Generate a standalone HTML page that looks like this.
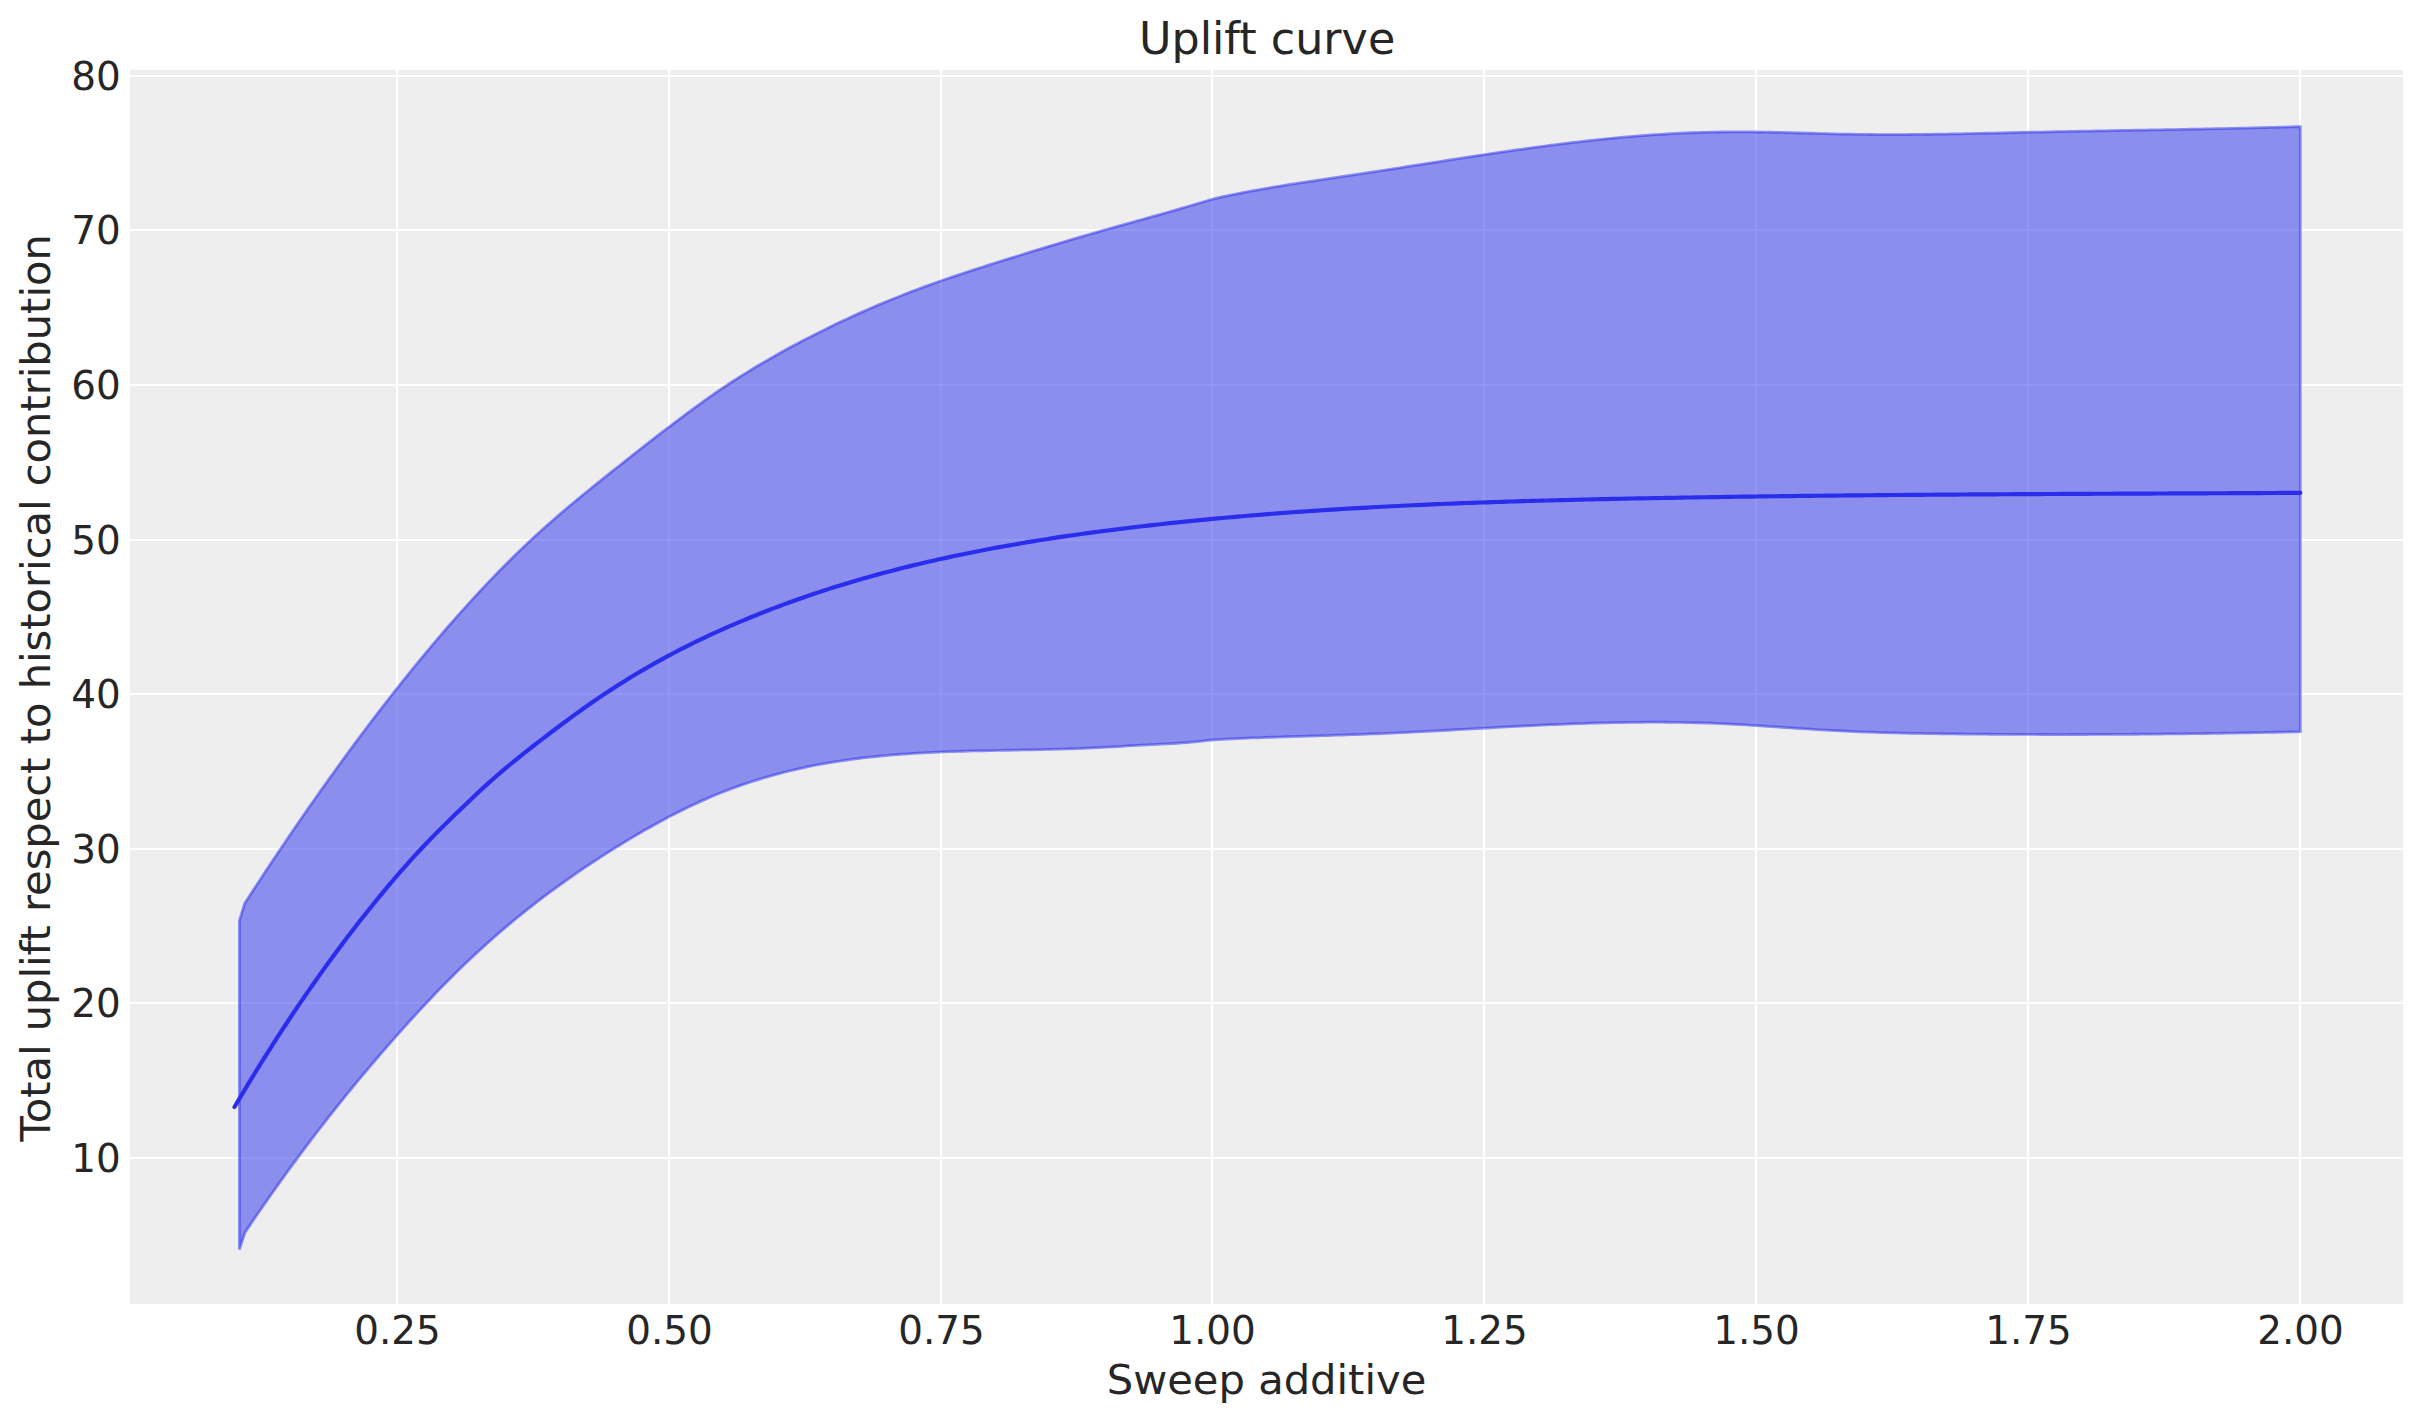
<!DOCTYPE html>
<html lang="en">
<head>
<meta charset="utf-8">
<title>Uplift curve</title>
<style>
html,body{margin:0;padding:0;background:#fff;}
body{width:2423px;height:1423px;overflow:hidden;}
svg{display:block;}
text{font-family:"DejaVu Sans","Liberation Sans",sans-serif;fill:#262626;}
.tick{font-size:38.89px;}
.lab{font-size:41.67px;}
.title{font-size:44.44px;}
</style>
</head>
<body>
<svg width="2423" height="1423" viewBox="0 0 2423 1423">
<rect x="0" y="0" width="2423" height="1423" fill="#ffffff"/>
<rect x="130" y="70" width="2273" height="1234" fill="#eeeeee"/>
<g stroke="#ffffff" stroke-width="2.2" fill="none"><line x1="397" y1="70" x2="397" y2="1304"/><line x1="669" y1="70" x2="669" y2="1304"/><line x1="941" y1="70" x2="941" y2="1304"/><line x1="1212" y1="70" x2="1212" y2="1304"/><line x1="1484" y1="70" x2="1484" y2="1304"/><line x1="1756" y1="70" x2="1756" y2="1304"/><line x1="2028" y1="70" x2="2028" y2="1304"/><line x1="2300" y1="70" x2="2300" y2="1304"/><line x1="130" y1="76" x2="2403" y2="76"/><line x1="130" y1="230" x2="2403" y2="230"/><line x1="130" y1="385" x2="2403" y2="385"/><line x1="130" y1="540" x2="2403" y2="540"/><line x1="130" y1="694" x2="2403" y2="694"/><line x1="130" y1="849" x2="2403" y2="849"/><line x1="130" y1="1003" x2="2403" y2="1003"/><line x1="130" y1="1158" x2="2403" y2="1158"/></g>
<path d="M239.40 920.60 L244.70 903.40 L249.69 895.70 L254.67 888.04 L259.66 880.43 L264.64 872.86 L269.63 865.32 L274.62 857.84 L279.60 850.39 L284.59 842.99 L289.57 835.63 L294.56 828.32 L299.55 821.05 L304.53 813.82 L309.52 806.64 L314.51 799.51 L319.49 792.42 L324.48 785.38 L329.46 778.38 L334.45 771.44 L339.44 764.54 L344.42 757.68 L349.41 750.88 L354.39 744.12 L359.38 737.42 L364.37 730.76 L369.35 724.15 L374.34 717.60 L379.32 711.09 L384.31 704.63 L389.30 698.23 L394.28 691.87 L399.27 685.57 L404.25 679.32 L409.24 673.13 L414.23 666.98 L419.21 660.89 L424.20 654.85 L429.19 648.87 L434.17 642.94 L439.16 637.07 L444.14 631.26 L449.13 625.50 L454.12 619.80 L459.10 614.16 L464.09 608.58 L469.07 603.06 L474.06 597.60 L479.05 592.21 L484.03 586.88 L489.02 581.62 L494.00 576.42 L498.99 571.29 L503.98 566.23 L508.96 561.23 L513.95 556.31 L518.93 551.46 L523.92 546.68 L528.91 541.97 L533.89 537.34 L538.88 532.77 L543.86 528.28 L548.85 523.85 L553.84 519.48 L558.82 515.16 L563.81 510.90 L568.80 506.68 L573.78 502.51 L578.77 498.37 L583.75 494.27 L588.74 490.21 L593.73 486.17 L598.71 482.15 L603.70 478.16 L608.68 474.17 L613.67 470.21 L618.66 466.25 L623.64 462.29 L628.63 458.35 L633.61 454.42 L638.60 450.50 L643.59 446.59 L648.57 442.70 L653.56 438.83 L658.54 434.97 L663.53 431.14 L668.52 427.32 L673.50 423.53 L678.49 419.77 L683.48 416.03 L688.46 412.33 L693.45 408.66 L698.43 405.03 L703.42 401.44 L708.41 397.90 L713.39 394.41 L718.38 390.97 L723.36 387.59 L728.35 384.27 L733.34 381.00 L738.32 377.80 L743.31 374.65 L748.29 371.56 L753.28 368.52 L758.27 365.52 L763.25 362.58 L768.24 359.69 L773.22 356.84 L778.21 354.03 L783.20 351.26 L788.18 348.53 L793.17 345.84 L798.16 343.19 L803.14 340.56 L808.13 337.97 L813.11 335.41 L818.10 332.89 L823.09 330.40 L828.07 327.94 L833.06 325.51 L838.04 323.11 L843.03 320.75 L848.02 318.42 L853.00 316.13 L857.99 313.86 L862.97 311.63 L867.96 309.43 L872.95 307.27 L877.93 305.13 L882.92 303.03 L887.90 300.96 L892.89 298.93 L897.88 296.93 L902.86 294.96 L907.85 293.02 L912.84 291.11 L917.82 289.24 L922.81 287.39 L927.79 285.57 L932.78 283.77 L937.77 282.00 L942.75 280.25 L947.74 278.53 L952.72 276.82 L957.71 275.14 L962.70 273.47 L967.68 271.82 L972.67 270.19 L977.65 268.57 L982.64 266.97 L987.63 265.38 L992.61 263.79 L997.60 262.22 L1002.58 260.66 L1007.57 259.10 L1012.56 257.55 L1017.54 256.01 L1022.53 254.47 L1027.51 252.93 L1032.50 251.40 L1037.49 249.87 L1042.47 248.35 L1047.46 246.84 L1052.45 245.33 L1057.43 243.83 L1062.42 242.33 L1067.40 240.85 L1072.39 239.37 L1077.38 237.89 L1082.36 236.43 L1087.35 234.98 L1092.33 233.53 L1097.32 232.10 L1102.31 230.67 L1107.29 229.26 L1112.28 227.85 L1117.26 226.45 L1122.25 225.05 L1127.24 223.66 L1132.22 222.27 L1137.21 220.88 L1142.19 219.49 L1147.18 218.09 L1152.17 216.70 L1157.15 215.30 L1162.14 213.90 L1167.13 212.48 L1172.11 211.06 L1177.10 209.63 L1182.08 208.18 L1187.07 206.73 L1192.06 205.25 L1197.04 203.76 L1202.03 202.26 L1207.01 200.77 L1212.00 199.41 L1216.99 198.14 L1221.98 196.97 L1226.98 195.88 L1231.97 194.83 L1236.96 193.82 L1241.95 192.83 L1246.95 191.86 L1251.94 190.92 L1256.93 190.02 L1261.92 189.13 L1266.91 188.26 L1271.91 187.41 L1276.90 186.58 L1281.89 185.77 L1286.88 184.97 L1291.88 184.18 L1296.87 183.41 L1301.86 182.64 L1306.85 181.89 L1311.84 181.14 L1316.84 180.39 L1321.83 179.65 L1326.82 178.92 L1331.81 178.18 L1336.81 177.45 L1341.80 176.71 L1346.79 175.97 L1351.78 175.22 L1356.77 174.47 L1361.77 173.71 L1366.76 172.95 L1371.75 172.18 L1376.74 171.41 L1381.73 170.64 L1386.73 169.87 L1391.72 169.09 L1396.71 168.31 L1401.70 167.52 L1406.70 166.74 L1411.69 165.96 L1416.68 165.17 L1421.67 164.39 L1426.66 163.60 L1431.66 162.82 L1436.65 162.03 L1441.64 161.25 L1446.63 160.47 L1451.63 159.69 L1456.62 158.92 L1461.61 158.15 L1466.60 157.38 L1471.59 156.61 L1476.59 155.85 L1481.58 155.09 L1486.57 154.34 L1491.56 153.60 L1496.56 152.86 L1501.55 152.12 L1506.54 151.40 L1511.53 150.68 L1516.52 149.96 L1521.52 149.26 L1526.51 148.56 L1531.50 147.87 L1536.49 147.19 L1541.49 146.52 L1546.48 145.86 L1551.47 145.21 L1556.46 144.57 L1561.45 143.95 L1566.45 143.33 L1571.44 142.72 L1576.43 142.13 L1581.42 141.55 L1586.42 140.98 L1591.41 140.43 L1596.40 139.89 L1601.39 139.36 L1606.38 138.85 L1611.38 138.35 L1616.37 137.87 L1621.36 137.41 L1626.35 136.96 L1631.34 136.52 L1636.34 136.11 L1641.33 135.71 L1646.32 135.33 L1651.31 134.97 L1656.31 134.62 L1661.30 134.30 L1666.29 133.99 L1671.28 133.70 L1676.27 133.44 L1681.27 133.19 L1686.26 132.97 L1691.25 132.76 L1696.24 132.58 L1701.24 132.42 L1706.23 132.29 L1711.22 132.17 L1716.21 132.07 L1721.20 132.00 L1726.20 131.94 L1731.19 131.90 L1736.18 131.88 L1741.17 131.88 L1746.17 131.90 L1751.16 131.94 L1756.15 131.99 L1761.14 132.06 L1766.13 132.14 L1771.13 132.24 L1776.12 132.34 L1781.11 132.46 L1786.10 132.59 L1791.10 132.72 L1796.09 132.85 L1801.08 132.99 L1806.07 133.13 L1811.06 133.26 L1816.06 133.40 L1821.05 133.53 L1826.04 133.66 L1831.03 133.79 L1836.03 133.91 L1841.02 134.02 L1846.01 134.12 L1851.00 134.22 L1855.99 134.30 L1860.99 134.38 L1865.98 134.44 L1870.97 134.49 L1875.96 134.53 L1880.96 134.56 L1885.95 134.57 L1890.94 134.58 L1895.93 134.57 L1900.92 134.56 L1905.92 134.53 L1910.91 134.50 L1915.90 134.46 L1920.89 134.41 L1925.88 134.36 L1930.88 134.29 L1935.87 134.22 L1940.86 134.15 L1945.85 134.06 L1950.85 133.98 L1955.84 133.88 L1960.83 133.79 L1965.82 133.69 L1970.81 133.58 L1975.81 133.48 L1980.80 133.37 L1985.79 133.26 L1990.78 133.14 L1995.78 133.03 L2000.77 132.91 L2005.76 132.80 L2010.75 132.68 L2015.74 132.57 L2020.74 132.46 L2025.73 132.34 L2030.72 132.23 L2035.71 132.13 L2040.71 132.02 L2045.70 131.92 L2050.69 131.81 L2055.68 131.71 L2060.67 131.61 L2065.67 131.52 L2070.66 131.42 L2075.65 131.33 L2080.64 131.23 L2085.64 131.14 L2090.63 131.05 L2095.62 130.96 L2100.61 130.86 L2105.60 130.77 L2110.60 130.69 L2115.59 130.60 L2120.58 130.51 L2125.57 130.42 L2130.57 130.33 L2135.56 130.24 L2140.55 130.15 L2145.54 130.06 L2150.53 129.97 L2155.53 129.88 L2160.52 129.79 L2165.51 129.70 L2170.50 129.61 L2175.49 129.52 L2180.49 129.42 L2185.48 129.33 L2190.47 129.23 L2195.46 129.14 L2200.46 129.04 L2205.45 128.94 L2210.44 128.84 L2215.43 128.73 L2220.42 128.63 L2225.42 128.52 L2230.41 128.41 L2235.40 128.30 L2240.39 128.18 L2245.39 128.07 L2250.38 127.95 L2255.37 127.83 L2260.36 127.70 L2265.35 127.58 L2270.35 127.45 L2275.34 127.31 L2280.33 127.18 L2285.32 127.04 L2290.32 126.90 L2295.31 126.75 L2300.30 126.60 L2300.30 731.70 L2295.31 731.82 L2290.32 731.93 L2285.32 732.04 L2280.33 732.15 L2275.34 732.26 L2270.35 732.36 L2265.35 732.46 L2260.36 732.56 L2255.37 732.66 L2250.38 732.75 L2245.39 732.84 L2240.39 732.93 L2235.40 733.02 L2230.41 733.10 L2225.42 733.19 L2220.42 733.27 L2215.43 733.34 L2210.44 733.42 L2205.45 733.49 L2200.46 733.56 L2195.46 733.63 L2190.47 733.69 L2185.48 733.76 L2180.49 733.82 L2175.49 733.87 L2170.50 733.93 L2165.51 733.98 L2160.52 734.03 L2155.53 734.08 L2150.53 734.13 L2145.54 734.17 L2140.55 734.21 L2135.56 734.25 L2130.57 734.28 L2125.57 734.32 L2120.58 734.35 L2115.59 734.37 L2110.60 734.40 L2105.60 734.42 L2100.61 734.44 L2095.62 734.46 L2090.63 734.48 L2085.64 734.49 L2080.64 734.50 L2075.65 734.51 L2070.66 734.51 L2065.67 734.52 L2060.67 734.52 L2055.68 734.52 L2050.69 734.51 L2045.70 734.50 L2040.71 734.49 L2035.71 734.48 L2030.72 734.47 L2025.73 734.45 L2020.74 734.43 L2015.74 734.41 L2010.75 734.38 L2005.76 734.35 L2000.77 734.32 L1995.78 734.29 L1990.78 734.26 L1985.79 734.22 L1980.80 734.18 L1975.81 734.13 L1970.81 734.09 L1965.82 734.04 L1960.83 733.99 L1955.84 733.93 L1950.85 733.88 L1945.85 733.82 L1940.86 733.76 L1935.87 733.69 L1930.88 733.62 L1925.88 733.54 L1920.89 733.46 L1915.90 733.37 L1910.91 733.27 L1905.92 733.17 L1900.92 733.06 L1895.93 732.94 L1890.94 732.81 L1885.95 732.67 L1880.96 732.53 L1875.96 732.37 L1870.97 732.20 L1865.98 732.02 L1860.99 731.82 L1855.99 731.62 L1851.00 731.40 L1846.01 731.17 L1841.02 730.92 L1836.03 730.67 L1831.03 730.40 L1826.04 730.12 L1821.05 729.83 L1816.06 729.54 L1811.06 729.23 L1806.07 728.92 L1801.08 728.59 L1796.09 728.27 L1791.10 727.93 L1786.10 727.60 L1781.11 727.26 L1776.12 726.92 L1771.13 726.58 L1766.13 726.25 L1761.14 725.92 L1756.15 725.60 L1751.16 725.28 L1746.17 724.98 L1741.17 724.68 L1736.18 724.40 L1731.19 724.13 L1726.20 723.88 L1721.20 723.65 L1716.21 723.43 L1711.22 723.23 L1706.23 723.05 L1701.24 722.89 L1696.24 722.75 L1691.25 722.63 L1686.26 722.52 L1681.27 722.43 L1676.27 722.35 L1671.28 722.29 L1666.29 722.25 L1661.30 722.22 L1656.31 722.20 L1651.31 722.21 L1646.32 722.22 L1641.33 722.25 L1636.34 722.29 L1631.34 722.35 L1626.35 722.42 L1621.36 722.50 L1616.37 722.59 L1611.38 722.69 L1606.38 722.81 L1601.39 722.94 L1596.40 723.07 L1591.41 723.22 L1586.42 723.38 L1581.42 723.55 L1576.43 723.72 L1571.44 723.91 L1566.45 724.10 L1561.45 724.30 L1556.46 724.51 L1551.47 724.73 L1546.48 724.95 L1541.49 725.18 L1536.49 725.42 L1531.50 725.66 L1526.51 725.91 L1521.52 726.16 L1516.52 726.42 L1511.53 726.68 L1506.54 726.94 L1501.55 727.21 L1496.56 727.48 L1491.56 727.76 L1486.57 728.03 L1481.58 728.31 L1476.59 728.59 L1471.59 728.87 L1466.60 729.15 L1461.61 729.43 L1456.62 729.71 L1451.63 729.99 L1446.63 730.26 L1441.64 730.54 L1436.65 730.81 L1431.66 731.08 L1426.66 731.35 L1421.67 731.61 L1416.68 731.87 L1411.69 732.13 L1406.70 732.38 L1401.70 732.62 L1396.71 732.86 L1391.72 733.09 L1386.73 733.32 L1381.73 733.54 L1376.74 733.75 L1371.75 733.96 L1366.76 734.15 L1361.77 734.34 L1356.77 734.52 L1351.78 734.70 L1346.79 734.87 L1341.80 735.04 L1336.81 735.21 L1331.81 735.37 L1326.82 735.52 L1321.83 735.68 L1316.84 735.83 L1311.84 735.99 L1306.85 736.14 L1301.86 736.29 L1296.87 736.45 L1291.88 736.60 L1286.88 736.76 L1281.89 736.92 L1276.90 737.08 L1271.91 737.25 L1266.91 737.42 L1261.92 737.60 L1256.93 737.79 L1251.94 737.98 L1246.95 738.17 L1241.95 738.38 L1236.96 738.59 L1231.97 738.82 L1226.98 739.05 L1221.98 739.29 L1216.99 739.60 L1212.00 740.01 L1207.01 740.49 L1202.03 741.06 L1197.04 741.61 L1192.06 742.10 L1187.07 742.53 L1182.09 742.91 L1177.10 743.25 L1172.12 743.56 L1167.13 743.84 L1162.14 744.10 L1157.16 744.34 L1152.17 744.59 L1147.19 744.84 L1142.20 745.09 L1137.22 745.37 L1132.23 745.66 L1127.25 745.96 L1122.26 746.27 L1117.27 746.58 L1112.29 746.89 L1107.30 747.18 L1102.32 747.46 L1097.33 747.72 L1092.35 747.96 L1087.36 748.19 L1082.38 748.40 L1077.39 748.59 L1072.40 748.76 L1067.42 748.93 L1062.43 749.08 L1057.45 749.22 L1052.46 749.35 L1047.48 749.47 L1042.49 749.58 L1037.51 749.69 L1032.52 749.79 L1027.53 749.89 L1022.55 749.98 L1017.56 750.07 L1012.58 750.16 L1007.59 750.25 L1002.61 750.34 L997.62 750.43 L992.64 750.53 L987.65 750.63 L982.66 750.74 L977.68 750.85 L972.69 750.97 L967.71 751.10 L962.72 751.24 L957.74 751.39 L952.75 751.56 L947.76 751.73 L942.78 751.93 L937.79 752.13 L932.81 752.36 L927.82 752.60 L922.84 752.86 L917.85 753.14 L912.87 753.44 L907.88 753.77 L902.89 754.12 L897.91 754.49 L892.92 754.89 L887.94 755.31 L882.95 755.77 L877.97 756.25 L872.98 756.77 L868.00 757.31 L863.01 757.89 L858.02 758.50 L853.04 759.15 L848.05 759.83 L843.07 760.55 L838.08 761.31 L833.10 762.11 L828.11 762.95 L823.13 763.83 L818.14 764.75 L813.15 765.72 L808.17 766.73 L803.18 767.79 L798.20 768.89 L793.21 770.05 L788.23 771.25 L783.24 772.50 L778.26 773.80 L773.27 775.16 L768.28 776.57 L763.30 778.03 L758.31 779.55 L753.33 781.12 L748.34 782.75 L743.36 784.43 L738.37 786.18 L733.39 787.98 L728.40 789.85 L723.41 791.78 L718.43 793.77 L713.44 795.82 L708.46 797.94 L703.47 800.12 L698.49 802.36 L693.50 804.67 L688.52 807.04 L683.53 809.46 L678.54 811.94 L673.56 814.48 L668.57 817.08 L663.59 819.72 L658.60 822.42 L653.62 825.17 L648.63 827.97 L643.65 830.81 L638.66 833.71 L633.67 836.64 L628.69 839.62 L623.70 842.64 L618.72 845.70 L613.73 848.80 L608.75 851.94 L603.76 855.11 L598.78 858.33 L593.79 861.58 L588.80 864.88 L583.82 868.22 L578.83 871.61 L573.85 875.04 L568.86 878.52 L563.88 882.05 L558.89 885.63 L553.91 889.26 L548.92 892.94 L543.93 896.67 L538.95 900.46 L533.96 904.31 L528.98 908.21 L523.99 912.17 L519.01 916.20 L514.02 920.28 L509.04 924.42 L504.05 928.63 L499.06 932.91 L494.08 937.25 L489.09 941.65 L484.11 946.13 L479.12 950.68 L474.14 955.29 L469.15 959.98 L464.16 964.74 L459.18 969.57 L454.19 974.46 L449.21 979.43 L444.22 984.46 L439.24 989.57 L434.25 994.74 L429.27 999.97 L424.28 1005.28 L419.29 1010.65 L414.31 1016.08 L409.32 1021.56 L404.34 1027.10 L399.35 1032.68 L394.37 1038.30 L389.38 1043.95 L384.40 1049.66 L379.41 1055.41 L374.42 1061.22 L369.44 1067.08 L364.45 1072.99 L359.47 1078.96 L354.48 1084.99 L349.50 1091.07 L344.51 1097.20 L339.53 1103.39 L334.54 1109.65 L329.55 1115.96 L324.57 1122.32 L319.58 1128.75 L314.60 1135.24 L309.61 1141.79 L304.63 1148.40 L299.64 1155.08 L294.66 1161.81 L289.67 1168.61 L284.68 1175.48 L279.70 1182.41 L274.71 1189.41 L269.73 1196.47 L264.74 1203.60 L259.76 1210.80 L254.77 1218.06 L249.79 1225.40 L244.80 1232.80 L239.40 1249.50 Z" fill="#2a2eec" fill-opacity="0.5" stroke="#2a2eec" stroke-opacity="0.5" stroke-width="2.78" stroke-linejoin="miter"/>
<path d="M234.50 1107.00 L239.49 1098.56 L244.48 1090.20 L249.47 1081.94 L254.46 1073.77 L259.45 1065.68 L264.44 1057.68 L269.43 1049.77 L274.42 1041.95 L279.41 1034.22 L284.40 1026.57 L289.39 1019.00 L294.38 1011.52 L299.37 1004.13 L304.36 996.82 L309.35 989.59 L314.34 982.45 L319.33 975.39 L324.32 968.41 L329.31 961.51 L334.30 954.69 L339.29 947.95 L344.28 941.29 L349.27 934.72 L354.26 928.22 L359.25 921.79 L364.24 915.45 L369.23 909.18 L374.22 902.99 L379.21 896.88 L384.20 890.84 L389.19 884.88 L394.18 879.01 L399.17 873.22 L404.16 867.53 L409.14 861.92 L414.13 856.41 L419.12 851.01 L424.11 845.70 L429.10 840.49 L434.09 835.37 L439.08 830.33 L444.07 825.36 L449.06 820.45 L454.05 815.59 L459.04 810.77 L464.03 805.98 L469.02 801.21 L474.01 796.46 L479.00 791.75 L483.99 787.14 L488.98 782.63 L493.97 778.21 L498.96 773.88 L503.95 769.64 L508.94 765.47 L513.93 761.36 L518.92 757.32 L523.91 753.34 L528.90 749.40 L533.89 745.50 L538.88 741.64 L543.87 737.80 L548.86 733.99 L553.85 730.22 L558.84 726.47 L563.83 722.75 L568.82 719.08 L573.81 715.44 L578.80 711.84 L583.79 708.28 L588.78 704.77 L593.77 701.31 L598.76 697.90 L603.75 694.54 L608.74 691.23 L613.73 687.98 L618.72 684.78 L623.71 681.64 L628.70 678.54 L633.69 675.50 L638.68 672.52 L643.67 669.58 L648.66 666.69 L653.65 663.85 L658.64 661.06 L663.63 658.32 L668.62 655.63 L673.61 652.98 L678.60 650.38 L683.59 647.83 L688.58 645.32 L693.57 642.86 L698.56 640.43 L703.55 638.05 L708.54 635.71 L713.53 633.41 L718.52 631.14 L723.51 628.91 L728.50 626.71 L733.49 624.55 L738.48 622.41 L743.47 620.31 L748.46 618.24 L753.44 616.20 L758.43 614.20 L763.42 612.22 L768.41 610.27 L773.40 608.36 L778.39 606.47 L783.38 604.61 L788.37 602.78 L793.36 600.98 L798.35 599.21 L803.34 597.46 L808.33 595.74 L813.32 594.05 L818.31 592.39 L823.30 590.75 L828.29 589.14 L833.28 587.55 L838.27 585.99 L843.26 584.46 L848.25 582.95 L853.24 581.46 L858.23 580.00 L863.22 578.56 L868.21 577.14 L873.20 575.75 L878.19 574.38 L883.18 573.03 L888.17 571.70 L893.16 570.40 L898.15 569.11 L903.14 567.85 L908.13 566.61 L913.12 565.39 L918.11 564.18 L923.10 563.00 L928.09 561.84 L933.08 560.69 L938.07 559.57 L943.06 558.46 L948.05 557.37 L953.04 556.30 L958.03 555.24 L963.02 554.20 L968.01 553.18 L973.00 552.18 L977.99 551.19 L982.98 550.22 L987.97 549.26 L992.96 548.32 L997.95 547.40 L1002.94 546.49 L1007.93 545.59 L1012.92 544.71 L1017.91 543.84 L1022.90 542.99 L1027.89 542.16 L1032.88 541.33 L1037.87 540.52 L1042.86 539.72 L1047.85 538.94 L1052.84 538.17 L1057.83 537.41 L1062.82 536.66 L1067.81 535.93 L1072.80 535.21 L1077.79 534.50 L1082.78 533.80 L1087.77 533.11 L1092.76 532.43 L1097.74 531.77 L1102.73 531.11 L1107.72 530.46 L1112.71 529.83 L1117.70 529.20 L1122.69 528.58 L1127.68 527.97 L1132.67 527.37 L1137.66 526.78 L1142.65 526.20 L1147.64 525.63 L1152.63 525.06 L1157.62 524.51 L1162.61 523.96 L1167.60 523.41 L1172.59 522.88 L1177.58 522.36 L1182.57 521.84 L1187.56 521.33 L1192.55 520.83 L1197.54 520.33 L1202.53 519.85 L1207.52 519.37 L1212.51 518.89 L1217.50 518.43 L1222.49 517.97 L1227.48 517.52 L1232.47 517.08 L1237.46 516.64 L1242.45 516.21 L1247.44 515.79 L1252.43 515.38 L1257.42 514.97 L1262.41 514.57 L1267.40 514.17 L1272.39 513.78 L1277.38 513.40 L1282.37 513.02 L1287.36 512.66 L1292.35 512.29 L1297.34 511.94 L1302.33 511.59 L1307.32 511.24 L1312.31 510.90 L1317.30 510.57 L1322.29 510.24 L1327.28 509.92 L1332.27 509.61 L1337.26 509.30 L1342.25 508.99 L1347.24 508.69 L1352.23 508.40 L1357.22 508.11 L1362.21 507.83 L1367.20 507.55 L1372.19 507.28 L1377.18 507.02 L1382.17 506.75 L1387.16 506.50 L1392.15 506.25 L1397.14 506.00 L1402.13 505.76 L1407.12 505.52 L1412.11 505.29 L1417.10 505.06 L1422.09 504.83 L1427.08 504.61 L1432.07 504.40 L1437.06 504.19 L1442.04 503.98 L1447.03 503.78 L1452.02 503.58 L1457.01 503.38 L1462.00 503.19 L1466.99 503.01 L1471.98 502.82 L1476.97 502.64 L1481.96 502.47 L1486.95 502.30 L1491.94 502.13 L1496.93 501.96 L1501.92 501.80 L1506.91 501.64 L1511.90 501.49 L1516.89 501.33 L1521.88 501.19 L1526.87 501.04 L1531.86 500.90 L1536.85 500.76 L1541.84 500.62 L1546.83 500.48 L1551.82 500.35 L1556.81 500.22 L1561.80 500.09 L1566.79 499.97 L1571.78 499.85 L1576.77 499.73 L1581.76 499.61 L1586.75 499.49 L1591.74 499.38 L1596.73 499.27 L1601.72 499.16 L1606.71 499.05 L1611.70 498.95 L1616.69 498.84 L1621.68 498.74 L1626.67 498.64 L1631.66 498.54 L1636.65 498.44 L1641.64 498.35 L1646.63 498.25 L1651.62 498.16 L1656.61 498.06 L1661.60 497.97 L1666.59 497.88 L1671.58 497.80 L1676.57 497.71 L1681.56 497.62 L1686.55 497.54 L1691.54 497.46 L1696.53 497.38 L1701.52 497.29 L1706.51 497.22 L1711.50 497.14 L1716.49 497.06 L1721.48 496.99 L1726.47 496.91 L1731.46 496.84 L1736.45 496.77 L1741.44 496.70 L1746.43 496.63 L1751.42 496.56 L1756.41 496.49 L1761.40 496.42 L1766.39 496.36 L1771.38 496.29 L1776.37 496.23 L1781.36 496.17 L1786.34 496.11 L1791.33 496.05 L1796.32 495.99 L1801.31 495.93 L1806.30 495.87 L1811.29 495.82 L1816.28 495.76 L1821.27 495.71 L1826.26 495.65 L1831.25 495.60 L1836.24 495.55 L1841.23 495.50 L1846.22 495.45 L1851.21 495.40 L1856.20 495.35 L1861.19 495.31 L1866.18 495.26 L1871.17 495.21 L1876.16 495.17 L1881.15 495.12 L1886.14 495.08 L1891.13 495.04 L1896.12 495.00 L1901.11 494.96 L1906.10 494.92 L1911.09 494.88 L1916.08 494.84 L1921.07 494.80 L1926.06 494.76 L1931.05 494.72 L1936.04 494.69 L1941.03 494.65 L1946.02 494.62 L1951.01 494.58 L1956.00 494.55 L1960.99 494.52 L1965.98 494.48 L1970.97 494.45 L1975.96 494.42 L1980.95 494.39 L1985.94 494.36 L1990.93 494.33 L1995.92 494.30 L2000.91 494.27 L2005.90 494.24 L2010.89 494.21 L2015.88 494.18 L2020.87 494.15 L2025.86 494.13 L2030.85 494.10 L2035.84 494.07 L2040.83 494.05 L2045.82 494.02 L2050.81 494.00 L2055.80 493.97 L2060.79 493.95 L2065.78 493.92 L2070.77 493.90 L2075.76 493.87 L2080.75 493.85 L2085.74 493.83 L2090.73 493.80 L2095.72 493.78 L2100.71 493.76 L2105.70 493.73 L2110.69 493.71 L2115.68 493.69 L2120.67 493.67 L2125.66 493.64 L2130.64 493.62 L2135.63 493.60 L2140.62 493.58 L2145.61 493.56 L2150.60 493.54 L2155.59 493.51 L2160.58 493.49 L2165.57 493.47 L2170.56 493.45 L2175.55 493.43 L2180.54 493.41 L2185.53 493.38 L2190.52 493.36 L2195.51 493.34 L2200.50 493.32 L2205.49 493.30 L2210.48 493.28 L2215.47 493.25 L2220.46 493.23 L2225.45 493.21 L2230.44 493.19 L2235.43 493.16 L2240.42 493.14 L2245.41 493.12 L2250.40 493.10 L2255.39 493.07 L2260.38 493.05 L2265.37 493.02 L2270.36 493.00 L2275.35 492.98 L2280.34 492.95 L2285.33 492.93 L2290.32 492.90 L2295.31 492.88 L2300.30 492.85" fill="none" stroke="#2a2eec" stroke-width="4.17" stroke-linecap="round" stroke-linejoin="round"/>
<g class="tick" text-anchor="middle"><text x="397.5" y="1343.5">0.25</text><text x="669.5" y="1343.5">0.50</text><text x="941.5" y="1343.5">0.75</text><text x="1212.5" y="1343.5">1.00</text><text x="1484.5" y="1343.5">1.25</text><text x="1756.5" y="1343.5">1.50</text><text x="2028.5" y="1343.5">1.75</text><text x="2300.5" y="1343.5">2.00</text></g>
<g class="tick" text-anchor="end"><text x="120.8" y="89.7">80</text><text x="120.8" y="243.7">70</text><text x="120.8" y="398.7">60</text><text x="120.8" y="553.7">50</text><text x="120.8" y="707.7">40</text><text x="120.8" y="862.7">30</text><text x="120.8" y="1016.7">20</text><text x="120.8" y="1171.7">10</text></g>
<text class="title" x="1267.1" y="53.9" text-anchor="middle">Uplift curve</text>
<text class="lab" x="1266.5" y="1394.2" text-anchor="middle">Sweep additive</text>
<text class="lab" transform="translate(50.2 1141.6) rotate(-90)" text-anchor="start" textLength="907.4" lengthAdjust="spacing">Total uplift respect to historical contribution</text>
</svg>
</body>
</html>
